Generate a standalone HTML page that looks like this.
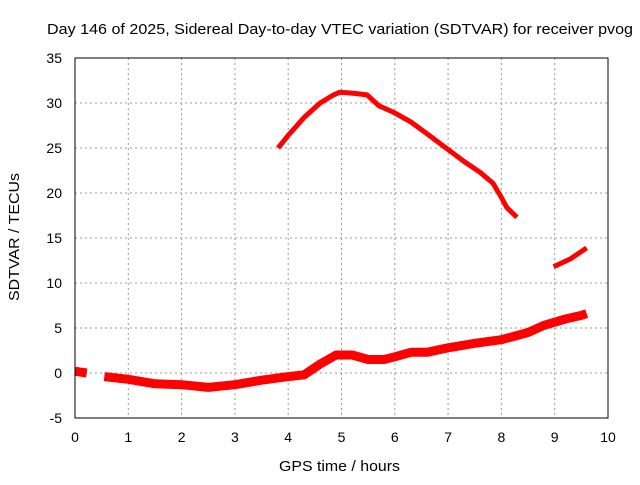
<!DOCTYPE html>
<html><head><meta charset="utf-8"><style>
body{margin:0;background:#fff}
svg{font-family:"Liberation Sans",sans-serif;font-size:14px}
</style></head><body>
<svg width="640" height="480">
<g id="grid"></g><g id="ticks"></g><g id="series"></g>
<rect x="75" y="58" width="533" height="360" fill="none" stroke="#000"/>
<text x="47" y="34" font-size="15" textLength="586" lengthAdjust="spacingAndGlyphs">Day 146 of 2025, Sidereal Day-to-day VTEC variation (SDTVAR) for receiver pvog</text>
<text x="279" y="471" font-size="15" textLength="121" lengthAdjust="spacingAndGlyphs">GPS time / hours</text>
<text transform="translate(19,301) rotate(-90)" font-size="15" textLength="128" lengthAdjust="spacingAndGlyphs">SDTVAR / TECUs</text>
</svg>
<script>
const xTicks=[0,1,2,3,4,5,6,7,8,9,10];
const yTicks=[-5,0,5,10,15,20,25,30,35];
const upperX=[3.81,4.0,4.3,4.6,4.85,4.97,5.2,5.48,5.7,6.0,6.3,6.6,7.03,7.3,7.6,7.84,8.0,8.1,8.29];
const upperY=[25,26.4,28.4,30,30.9,31.2,31.1,30.9,29.7,28.9,27.9,26.6,24.7,23.5,22.3,21.1,19.5,18.4,17.3];
const tailX=[8.98,9.3,9.6];
const tailY=[11.8,12.7,13.9];
const startX=[0.0,0.1,0.22];
const startY=[0.2,0.1,0.0];
const lowerX=[0.55,1.0,1.5,2.0,2.5,3.0,3.5,4.0,4.3,4.6,4.9,5.2,5.5,5.8,6.0,6.3,6.6,7.0,7.5,8.0,8.5,8.8,9.2,9.5,9.6];
const lowerY=[-0.4,-0.7,-1.2,-1.3,-1.6,-1.3,-0.8,-0.4,-0.2,1.0,2.0,2.0,1.5,1.5,1.8,2.3,2.3,2.8,3.3,3.7,4.5,5.3,6.0,6.4,6.6];
const x=v=>75+v*53.3, y=v=>373-v*9;
const ns="http://www.w3.org/2000/svg";
const mk=(t,a,p)=>{const e=document.createElementNS(ns,t);for(const k in a)e.setAttribute(k,a[k]);document.getElementById(p).appendChild(e);return e;};
xTicks.forEach(t=>{
 if(t>0&&t<10){const g=mk('line',{x1:x(t),x2:x(t),y1:58,y2:418,stroke:'#999','stroke-dasharray':'2,3'},'grid');
 
 }
 const l=mk('text',{x:x(t),y:442,'text-anchor':'middle'},'ticks');l.textContent=t;
 
 
});
yTicks.forEach(t=>{
 if(t>-5&&t<35){const g=mk('line',{x1:75,x2:608,y1:y(t),y2:y(t),stroke:'#999','stroke-dasharray':'2,3'},'grid');
 
 }
 const l=mk('text',{x:62,y:y(t)+5,'text-anchor':'end'},'ticks');l.textContent=t;
 
 
});
function line(xs,ys,w,name){
 const p=mk('polyline',{points:xs.map((v,i)=>x(v)+','+y(ys[i])).join(' '),fill:'none',stroke:'#f00','stroke-width':w,'stroke-linejoin':'round'},'series');
 
 
}
line(upperX,upperY,5,'upper-series');
line(tailX,tailY,5,'tail-series');
line(startX,startY,9,'start-series');
line(lowerX,lowerY,9,'lower-series');
</script>
</body></html>
